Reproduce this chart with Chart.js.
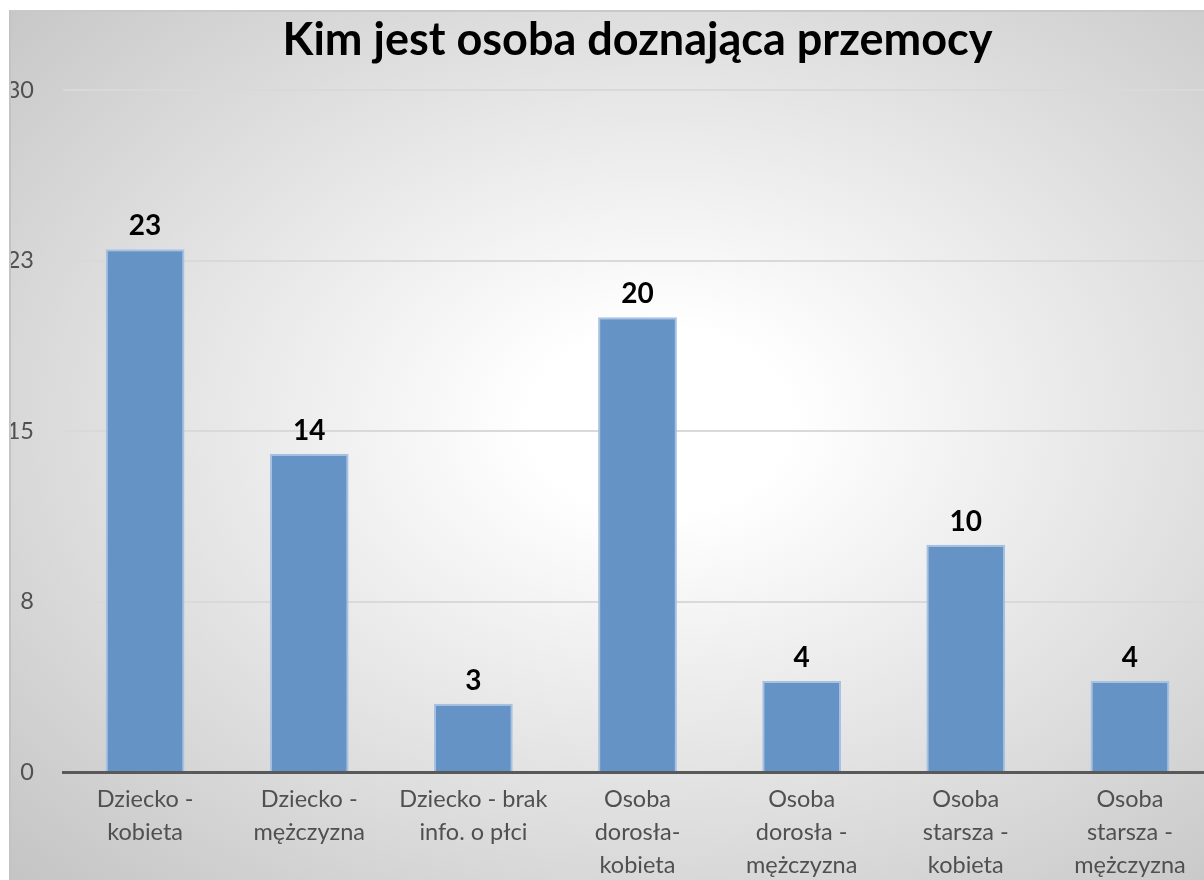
<!DOCTYPE html>
<html>
<head>
<meta charset="utf-8">
<script src="https://cdn.jsdelivr.net/npm/chart.js@4"></script>
<style>
  html, body { margin: 0; padding: 0; background: #fff; overflow: hidden; width: 1204px; height: 880px; }
  #frame {
    position: absolute; left: 9px; top: 10px; width: 1201px; height: 870px;
    border-left: 2px solid #c3c3c3; border-top: 2px solid #c9c9c9;
    background: radial-gradient(ellipse farthest-corner at 54% 47%, #ffffff 0%, #ffffff 14%, #c4c4c4 100%);
  }
  canvas { display: block; }
</style>
</head>
<body>
<div id="frame"><canvas id="barChart" width="1201" height="868"></canvas></div>
<script>
const chartTitle = 'Kim jest osoba doznająca przemocy';
const categories = [
  ['Dziecko -', 'kobieta'],
  ['Dziecko -', 'mężczyzna'],
  ['Dziecko - brak', 'info. o płci'],
  ['Osoba', 'dorosła-', 'kobieta'],
  ['Osoba', 'dorosła -', 'mężczyzna'],
  ['Osoba', 'starsza -', 'kobieta'],
  ['Osoba', 'starsza -', 'mężczyzna']
];
const values = [23, 14, 3, 20, 4, 10, 4];
const yTickValues = [0, 7.5, 15, 22.5, 30];
const yTickLabels = ['0', '8', '15', '23', '30'];

// value labels above the bars
const barLabels = {
  id: 'barLabels',
  afterDatasetsDraw(chart) {
    let ctx = chart.ctx;
    let meta = chart.getDatasetMeta(0);
    ctx.save();
    ctx.font = 'bold 28px Lato';
    ctx.fillStyle = '#000000';
    ctx.textAlign = 'center';
    ctx.textBaseline = 'middle';
    meta.data.forEach((bar, i) => {
      ctx.fillText(String(values[i]), bar.x, bar.y - 23);
    });
    ctx.restore();
  }
};

// create bar chart
new Chart(document.getElementById('barChart'), {
  type: 'bar',
  data: {
    labels: categories,
    datasets: [{
      data: values,
      backgroundColor: '#6593c6',
      borderColor: '#a7c1e2',
      borderWidth: 2,
      barPercentage: 0.48,
      categoryPercentage: 1
    }]
  },
  options: {
    responsive: false,
    animation: false,
    plugins: {
      legend: { display: false },
      tooltip: { enabled: false },
      title: {
        display: true,
        text: chartTitle,
        fullSize: false,
        color: '#000000',
        font: { family: 'Lato', size: 45, weight: 'bold', lineHeight: 1.0 },
        padding: { top: 6, bottom: 27 }
      }
    },
    scales: {
      x: {
        grid: { display: false, drawTicks: false },
        border: { display: true, color: '#595959', width: 3 },
        ticks: {
          color: '#505050',
          font: { family: 'Lato', size: 23.5, lineHeight: 1.4 },
          padding: 11,
          autoSkip: false,
          maxRotation: 0,
          minRotation: 0
        },
        afterFit(scale) { scale.height = 108; }
      },
      y: {
        min: 0,
        max: 30,
        afterBuildTicks(scale) {
          scale.ticks = yTickValues.map(v => ({ value: v }));
        },
        afterFit(scale) { scale.width = 52; },
        grid: { color: '#d9d9d9', lineWidth: 2, drawTicks: false },
        border: { display: false },
        ticks: {
          color: '#505050',
          font: { family: 'Lato', size: 23.5 },
          padding: 29,
          callback: (value, index) => yTickLabels[index]
        }
      }
    }
  },
  plugins: [barLabels]
});
</script>
</body>
</html>
